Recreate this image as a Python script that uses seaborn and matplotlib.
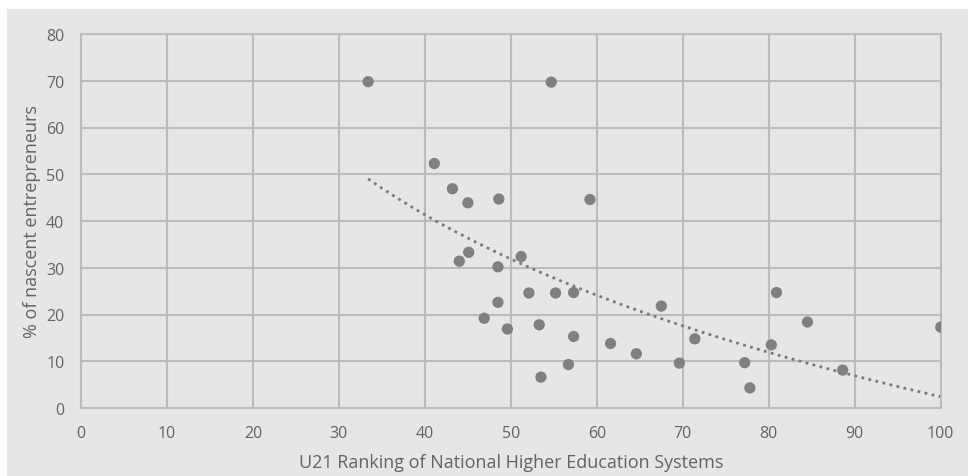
import numpy as np
import pandas as pd
import matplotlib
matplotlib.use("Agg")
import matplotlib.pyplot as plt
import seaborn as sns
from matplotlib.patches import Rectangle

# U21 ranking score vs share of nascent entrepreneurs
u21_score = [33.4, 54.7, 41.1, 43.2, 45.0, 48.6, 59.2, 45.1, 44.0, 48.5,
             51.2, 52.1, 55.2, 57.3, 48.5, 46.9, 49.6, 53.3, 57.3, 61.6,
             64.6, 56.7, 53.5, 67.5, 71.4, 69.6, 77.2, 77.8, 80.3, 80.9,
             84.5, 88.6, 100.0]
nascent_pct = [69.8, 69.7, 52.3, 46.9, 43.9, 44.7, 44.6, 33.3, 31.4, 30.2,
               32.4, 24.6, 24.6, 24.7, 22.6, 19.2, 16.9, 17.8, 15.3, 13.8,
               11.6, 9.3, 6.6, 21.8, 14.8, 9.6, 9.7, 4.3, 13.5, 24.7,
               18.4, 8.1, 17.3]

x_ticks = list(range(0, 101, 10))
y_ticks = list(range(0, 81, 10))

df = pd.DataFrame({"u21": u21_score, "pct": nascent_pct})

sns.set_style("white")
plt.rcParams["font.family"] = ["Open Sans", "DejaVu Sans"]

bg = "#e6e6e6"
grid_c = "#bcbcbc"
pt_c = "#808080"
txt_c = "#636363"

fig = plt.figure(figsize=(9.68, 4.77), dpi=100, facecolor="white")
fig.patches.append(Rectangle((7 / 968, 0), 1, 1 - 10 / 477, transform=fig.transFigure,
                             facecolor=bg, edgecolor="none", zorder=-5))
ax = fig.add_axes([81 / 968, 1 - 409 / 477, (940.7 - 81) / 968, (409 - 35) / 477])
ax.set_facecolor(bg)

sns.scatterplot(data=df, x="u21", y="pct", ax=ax, s=66, color=pt_c,
                edgecolor="none", zorder=3)
# logarithmic trend line, like the spreadsheet trendline
sns.regplot(data=df, x="u21", y="pct", ax=ax, logx=True, ci=None, scatter=False,
            line_kws=dict(color="#7a7a7a", lw=2, linestyle=(0, (1, 1.6)), zorder=2))

ax.set_xlim(0, 100)
ax.set_ylim(0, 80)
ax.set_xticks(x_ticks)
ax.set_yticks(y_ticks)
ax.grid(True, color=grid_c, lw=1.5)
ax.set_axisbelow(True)
for sp in ax.spines.values():
    sp.set_color(grid_c)
    sp.set_linewidth(1.5)
ax.tick_params(axis="both", length=0, labelsize=11.5, colors=txt_c)
ax.tick_params(axis="x", pad=12)
ax.tick_params(axis="y", pad=12)

ax.set_xlabel("U21 Ranking of National Higher Education Systems", fontsize=13,
              color=txt_c, labelpad=9)
ax.set_ylabel("% of nascent entrepreneurs", fontsize=13, color=txt_c, labelpad=4)

fig.savefig("out.png", dpi=100, facecolor="white")
